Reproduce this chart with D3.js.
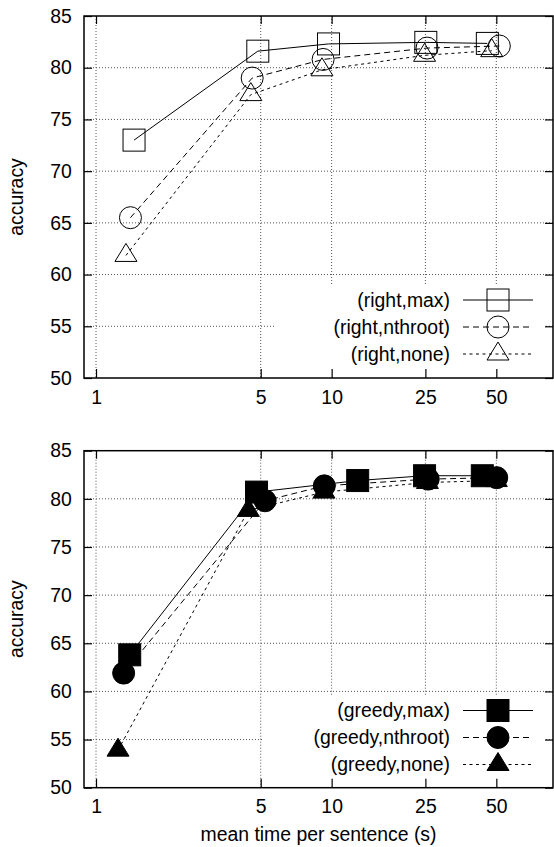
<!DOCTYPE html>
<html><head><meta charset="utf-8">
<script src="https://cdn.jsdelivr.net/npm/d3@7"></script>
<style>
body{margin:0;background:#fff}
svg{display:block}
text{font-family:"Liberation Sans",Arial,Helvetica,sans-serif;font-size:19.4px;fill:#000}
</style>
</head><body>
<svg id="chart" width="554" height="847"></svg>
<script>
// ---- data ----
const xTicks = [1, 5, 10, 25, 50];
const yTicks = [50, 55, 60, 65, 70, 75, 80, 85];
const xTitle = "mean time per sentence (s)";
const yTitle = "accuracy";

const rightNames = ["(right,max)", "(right,nthroot)", "(right,none)"];
const rightMaxX  = [1.45, 4.86, 9.7, 25.1, 45.8];
const rightMaxY  = [73.0, 81.6, 82.3, 82.45, 82.35];
const rightNthX  = [1.40, 4.6, 9.2, 25.4, 51.5];
const rightNthY  = [65.5, 79.0, 80.8, 81.9, 82.1];
const rightNoneX = [1.34, 4.54, 9.1, 24.8, 47.8];
const rightNoneY = [61.85, 77.4, 79.8, 81.2, 81.65];

const greedyNames = ["(greedy,max)", "(greedy,nthroot)", "(greedy,none)"];
const greedyMaxX  = [1.39, 4.8, 12.9, 24.8, 43.6];
const greedyMaxY  = [63.8, 80.7, 81.9, 82.4, 82.4];
const greedyNthX  = [1.31, 5.22, 9.31, 25.7, 50.2];
const greedyNthY  = [61.9, 79.8, 81.35, 82.05, 82.2];
const greedyNoneX = [1.24, 4.43, 9.28, 25.5, 50];
const greedyNoneY = [53.9, 78.8, 80.7, 81.7, 81.9];

// ---- layout ----
const svg = d3.select("#chart");
const L = 84, R = 553;
const x = d3.scaleLog().domain([0.8892, 87.0]).range([L, R]);

const styles = [
  {dash: null, shape: "square"},
  {dash: "6,4", shape: "circle"},
  {dash: "3,3.5", shape: "triangle"}
];

const panels = [
  {top: 16, bottom: 378, filled: false, names: rightNames,
   xs: [rightMaxX, rightNthX, rightNoneX], ys: [rightMaxY, rightNthY, rightNoneY],
   box: {x0: 275, x1: 544, y0: 286}, rows: [300, 327, 354], showXTitle: false},
  {top: 450.7, bottom: 787.7, filled: true, names: greedyNames,
   xs: [greedyMaxX, greedyNthX, greedyNoneX], ys: [greedyMaxY, greedyNthY, greedyNoneY],
   box: {x0: 263, x1: 544, y0: 696}, rows: [710.5, 737.5, 764.5], showXTitle: true}
];

function marker(g, shape, cx, cy, filled) {
  const fill = filled ? "#000" : "none";
  if (shape === "square") {
    g.append("rect").attr("x", cx - 11).attr("y", cy - 11).attr("width", 22).attr("height", 22)
      .attr("fill", fill).attr("stroke", "#000").attr("stroke-width", 1);
  } else if (shape === "circle") {
    g.append("circle").attr("cx", cx).attr("cy", cy).attr("r", 11)
      .attr("fill", fill).attr("stroke", "#000").attr("stroke-width", 1);
  } else {
    g.append("path").attr("d", `M${cx},${cy - 12}L${cx + 11},${cy + 6}L${cx - 11},${cy + 6}Z`)
      .attr("fill", fill).attr("stroke", "#000").attr("stroke-width", 1);
  }
}

panels.forEach(p => {
  const y = d3.scaleLinear().domain([50, 85]).range([p.bottom, p.top]);
  const g = svg.append("g");

  // grid
  const grid = g.append("g").attr("stroke", "#555").attr("stroke-width", 1).attr("stroke-dasharray", "1,2");
  yTicks.filter(v => v > 50 && v < 85).forEach(v => {
    grid.append("line").attr("x1", L).attr("x2", R).attr("y1", y(v)).attr("y2", y(v));
  });
  xTicks.forEach(v => {
    grid.append("line").attr("x1", x(v)).attr("x2", x(v)).attr("y1", p.top).attr("y2", p.bottom);
  });

  // opaque legend area
  g.append("rect").attr("x", p.box.x0).attr("y", p.box.y0)
    .attr("width", p.box.x1 - p.box.x0).attr("height", p.bottom - p.box.y0).attr("fill", "#fff");

  // axes (inward ticks)
  const ax = g.append("g");
  ax.append("g").attr("transform", `translate(${L},0)`)
    .call(d3.axisLeft(y).tickValues(yTicks).tickSize(-8).tickPadding(12.3).tickFormat(d3.format("d")));
  ax.append("g").attr("transform", `translate(${R},0)`)
    .call(d3.axisRight(y).tickValues(yTicks).tickSize(-8).tickFormat(""));
  ax.append("g").attr("transform", `translate(0,${p.bottom})`)
    .call(d3.axisBottom(x).tickValues(xTicks).tickSize(-9).tickPadding(12).tickFormat(d3.format("d")));
  ax.append("g").attr("transform", `translate(0,${p.top})`)
    .call(d3.axisTop(x).tickValues(xTicks).tickSize(-8).tickFormat(""));
  ax.selectAll(".domain").remove();
  ax.selectAll(".tick line").attr("stroke", "#000").attr("stroke-width", 1.2);
  ax.selectAll("text").attr("font-size", null).attr("font-family", null).style("font-size", "19.4px")
    .style("font-family", '"Liberation Sans",Arial,sans-serif');

  // border
  g.append("rect").attr("x", L).attr("y", p.top).attr("width", R - L).attr("height", p.bottom - p.top)
    .attr("fill", "none").attr("stroke", "#000").attr("stroke-width", 1.5);

  // series
  styles.forEach((s, i) => {
    const pts = p.xs[i].map((xv, j) => [x(xv), y(p.ys[i][j])]);
    g.append("path").attr("d", d3.line()(pts)).attr("fill", "none").attr("stroke", "#000")
      .attr("stroke-width", 1).attr("stroke-dasharray", s.dash);
  });
  styles.forEach((s, i) => {
    p.xs[i].forEach((xv, j) => marker(g, s.shape, x(xv), y(p.ys[i][j]), p.filled));
  });

  // legend
  styles.forEach((s, i) => {
    const ry = p.rows[i];
    g.append("text").attr("x", 450).attr("y", ry).attr("dy", "0.35em").attr("text-anchor", "end").text(p.names[i]);
    g.append("line").attr("x1", 463).attr("x2", 533).attr("y1", ry).attr("y2", ry)
      .attr("stroke", "#000").attr("stroke-width", 1).attr("stroke-dasharray", s.dash);
    marker(g, s.shape, 498, ry, p.filled);
  });

  // y title
  const cy = (p.top + p.bottom) / 2;
  g.append("text").attr("transform", `translate(23,${cy}) rotate(-90)`).attr("text-anchor", "middle").text(yTitle);

  if (p.showXTitle) {
    g.append("text").attr("x", (L + R) / 2).attr("y", 841).attr("text-anchor", "middle").text(xTitle);
  }
});
</script>
</body></html>
